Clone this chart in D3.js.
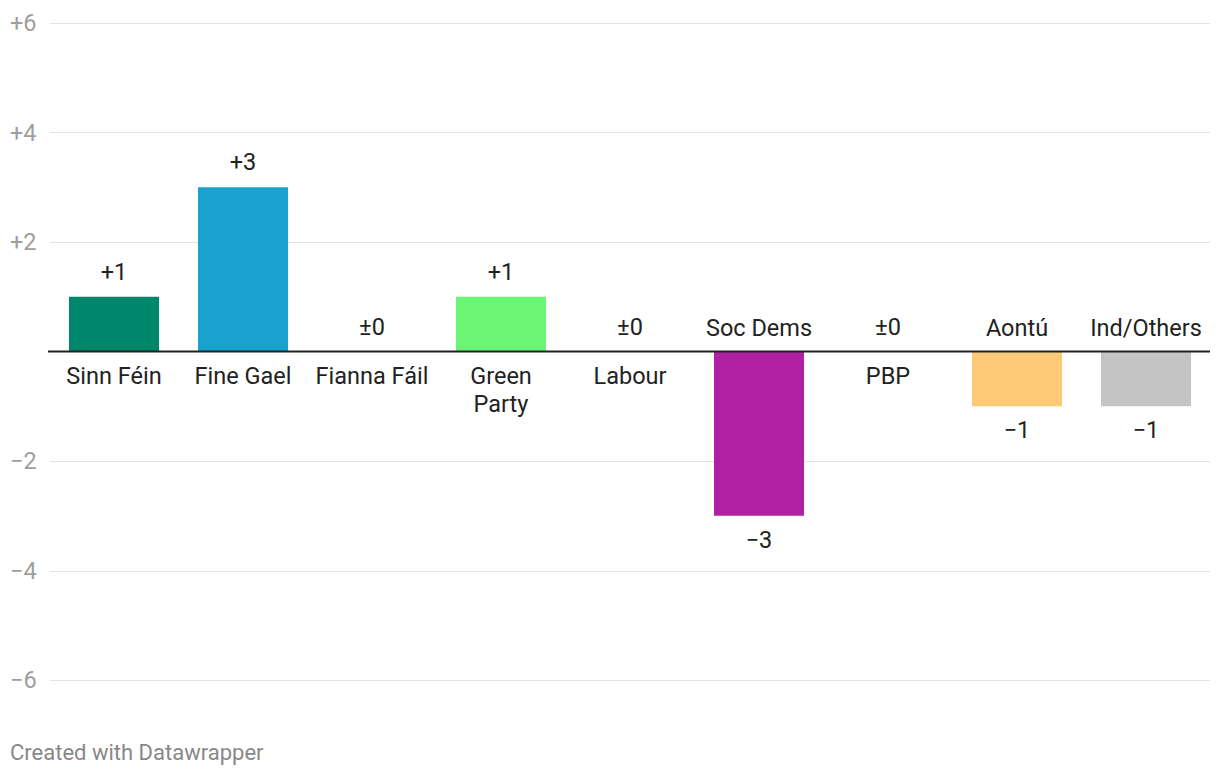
<!DOCTYPE html>
<html>
<head>
<meta charset="utf-8">
<script src="https://cdn.jsdelivr.net/npm/d3@7"></script>
<style>
  html, body { margin: 0; padding: 0; background: #fff; }
  svg { display: block; font-family: Roboto, "Noto Sans", sans-serif; }
</style>
</head>
<body>
<svg id="chart" width="1220" height="776"></svg>
<script>
const categories = ["Sinn Féin", "Fine Gael", "Fianna Fáil", "Green Party", "Labour", "Soc Dems", "PBP", "Aontú", "Ind/Others"];
const values = [1, 3, 0, 1, 0, -3, 0, -1, -1];
const colors = ["#00876b", "#1aa2cf", "#6af575", "#6af575", "#cccccc", "#b020a3", "#cccccc", "#ffca76", "#c4c4c4"];
const tickValues = [6, 4, 2, -2, -4, -6];
const tickLabels = ["+6", "+4", "+2", "−2", "−4", "−6"];

const svg = d3.select("#chart");
const x = d3.scaleBand().domain(categories).range([49.5, 1210.5]).paddingInner(0.302).paddingOuter(0.151);
const y = d3.scaleLinear().domain([-6, 6]).range([680, 23]);

const g = svg.append("g");
tickValues.forEach((t, i) => {
  g.append("line").attr("x1", 50).attr("x2", 1210)
    .attr("y1", Math.round(y(t)) + 0.5).attr("y2", Math.round(y(t)) + 0.5)
    .attr("stroke", "#e3e3e3").attr("stroke-width", 1);
  g.append("text").attr("x", 10).attr("y", y(t)).attr("dy", "0.35em")
    .attr("fill", "#9e9e9e").attr("font-size", 23.5).text(tickLabels[i]);
});

svg.selectAll("rect.bar").data(categories).join("rect")
  .attr("class", "bar")
  .attr("x", d => x(d))
  .attr("width", x.bandwidth())
  .attr("y", (d, i) => y(Math.max(0, values[i])))
  .attr("height", (d, i) => Math.abs(y(values[i]) - y(0)))
  .attr("fill", (d, i) => colors[i]);

svg.append("line").attr("x1", 48).attr("x2", 1210).attr("y1", y(0)).attr("y2", y(0))
  .attr("stroke", "#222").attr("stroke-width", 2);

const fmt = v => v > 0 ? "+" + v : v < 0 ? "−" + Math.abs(v) : "±0";

svg.selectAll("text.val").data(categories).join("text")
  .attr("class", "val")
  .attr("x", d => x(d) + x.bandwidth() / 2)
  .attr("y", (d, i) => values[i] >= 0 ? y(values[i]) - 25 : y(values[i]) + 24)
  .attr("dy", "0.35em")
  .attr("text-anchor", "middle")
  .attr("font-size", 23.5)
  .attr("fill", "#222")
  .text((d, i) => fmt(values[i]));

categories.forEach((c, i) => {
  const cx = x(c) + x.bandwidth() / 2;
  const neg = values[i] < 0;
  const lines = c === "Green Party" ? ["Green", "Party"] : [c];
  const t = svg.append("text")
    .attr("x", cx)
    .attr("text-anchor", "middle")
    .attr("font-size", 23.5)
    .attr("fill", "#222");
  lines.forEach((l, k) => {
    t.append("tspan").attr("x", cx)
      .attr("y", neg ? y(0) - 24 - (lines.length - 1 - k) * 28 : y(0) + 24 + k * 28)
      .attr("dy", "0.35em").text(l);
  });
});

svg.append("text").attr("x", 10).attr("y", 752).attr("dy", "0.35em")
  .attr("font-size", 22).attr("fill", "#888").text("Created with Datawrapper");
</script>
</body>
</html>
